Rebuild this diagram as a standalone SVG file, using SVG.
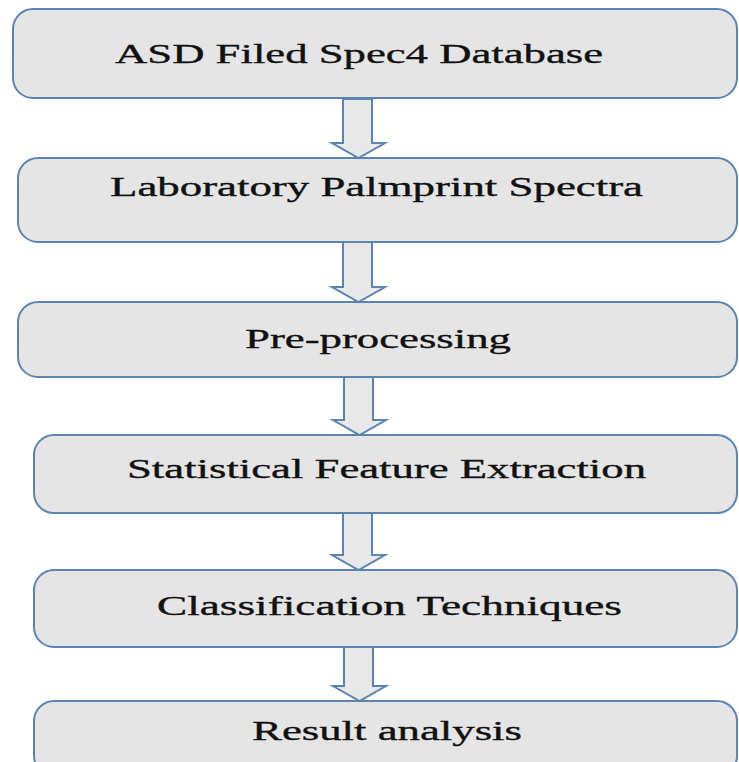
<svg xmlns="http://www.w3.org/2000/svg" width="739" height="762" viewBox="0 0 739 762">
<style>
.box{fill:#e5e5e5;stroke:#5b84b1;stroke-width:2}
.arr{fill:#e8e8e8;stroke:#5b84b1;stroke-width:2;stroke-linejoin:miter}
.lbl{font-family:"Liberation Serif","Times New Roman",serif;font-size:27px;fill:#111;stroke:#111;stroke-width:0.35}
</style>
<rect width="739" height="762" fill="#ffffff"/>
<g id="connectors">
<path class="arr" d="M343,99 L372,99 L372,143 L385,143 L358.5,158 L332,143 L343,143 Z"/>
<path class="arr" d="M343,242 L372,242 L372,287 L385,287 L358.5,302 L332,287 L343,287 Z"/>
<path class="arr" d="M344,377 L373,377 L373,420 L386,420 L359.5,435 L333,420 L344,420 Z"/>
<path class="arr" d="M343,513 L372,513 L372,555 L385,555 L358.5,570 L332,555 L343,555 Z"/>
<path class="arr" d="M344,647 L373,647 L373,686 L386,686 L359.5,701 L333,686 L344,686 Z"/>
</g>
<g id="n1"><rect class="box" x="13" y="9" width="724" height="89" rx="20"/><text class="lbl" x="115" y="63" style="font-size:28px" textLength="488" lengthAdjust="spacingAndGlyphs">ASD Filed Spec4 Database</text></g>
<g id="n2"><rect class="box" x="18" y="158" width="719" height="84" rx="20"/><text class="lbl" x="110" y="196" textLength="533" lengthAdjust="spacingAndGlyphs">Laboratory Palmprint Spectra</text></g>
<g id="n3"><rect class="box" x="18" y="302" width="719" height="75" rx="20"/><text class="lbl" x="245" y="348" textLength="266" lengthAdjust="spacingAndGlyphs">Pre-processing</text></g>
<g id="n4"><rect class="box" x="34" y="435" width="703" height="78" rx="20"/><text class="lbl" x="127" y="478" textLength="519" lengthAdjust="spacingAndGlyphs">Statistical Feature Extraction</text></g>
<g id="n5"><rect class="box" x="34" y="570" width="703" height="77" rx="20"/><text class="lbl" x="157" y="615" textLength="465" lengthAdjust="spacingAndGlyphs">Classification Techniques</text></g>
<g id="n6"><rect class="box" x="34" y="701" width="703" height="75" rx="20"/><text class="lbl" x="252" y="740" textLength="270" lengthAdjust="spacingAndGlyphs">Result analysis</text></g>
</svg>
